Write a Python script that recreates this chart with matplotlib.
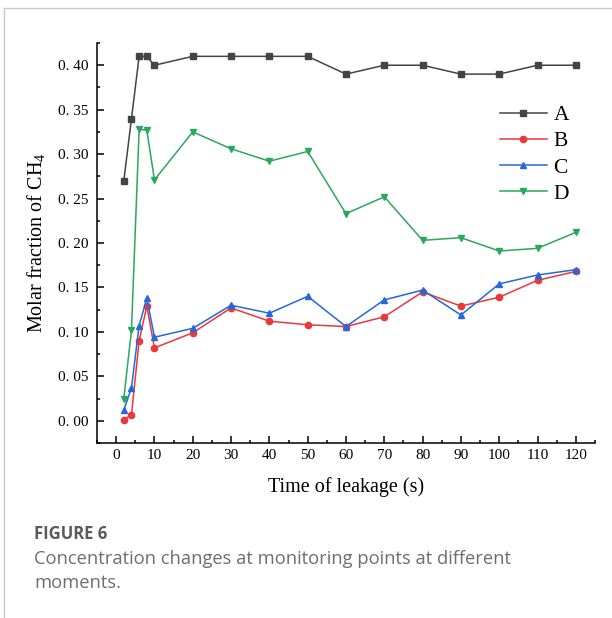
"""Molar fraction of CH4 at the four monitoring points over the leak time."""

import matplotlib
matplotlib.use("Agg")
import matplotlib.pyplot as plt
from matplotlib.lines import Line2D
from matplotlib.ticker import FuncFormatter, MultipleLocator

time_s = [2, 4, 6, 8, 10, 20, 30, 40, 50, 60, 70, 80, 90, 100, 110, 120]
point_a = [0.270, 0.340, 0.410, 0.410, 0.400, 0.410, 0.410, 0.410,
           0.410, 0.390, 0.400, 0.400, 0.390, 0.390, 0.400, 0.400]
point_b = [0.001, 0.007, 0.090, 0.129, 0.082, 0.099, 0.127, 0.112,
           0.108, 0.106, 0.117, 0.145, 0.129, 0.139, 0.158, 0.168]
point_c = [0.012, 0.037, 0.107, 0.138, 0.094, 0.104, 0.130, 0.121,
           0.140, 0.106, 0.136, 0.147, 0.119, 0.154, 0.164, 0.170]
point_d = [0.025, 0.102, 0.328, 0.327, 0.271, 0.325, 0.306, 0.292,
           0.303, 0.233, 0.252, 0.203, 0.206, 0.191, 0.194, 0.212]

series = [
    ("A", point_a, "#444444", "s"),
    ("B", point_b, "#e8393b", "o"),
    ("C", point_c, "#2468dc", "^"),
    ("D", point_d, "#2aa85c", "v"),
]

serif = "Liberation Serif"
plt.rcParams["mathtext.fontset"] = "custom"
plt.rcParams["mathtext.rm"] = serif
plt.rcParams["mathtext.it"] = serif + ":italic"

fig = plt.figure(figsize=(6.12, 6.18), dpi=100)
ax = fig.add_axes([0.1585, 0.2832, 0.8137, 0.6472])

for name, vals, color, marker in series:
    ax.plot(time_s, vals, color=color, lw=1.1, marker=marker, ms=4.5,
            label=name)

ax.set_xlim(-5, 125)
ax.set_ylim(-0.025, 0.425)
ax.xaxis.set_major_locator(MultipleLocator(10))
ax.xaxis.set_minor_locator(MultipleLocator(5))
ax.yaxis.set_major_locator(MultipleLocator(0.05))
ax.yaxis.set_minor_locator(MultipleLocator(0.025))
ax.yaxis.set_major_formatter(
    FuncFormatter(lambda v, _: f"{v:.2f}".replace(".", ". ")))

for side in ("top", "right"):
    ax.spines[side].set_visible(False)
for side in ("left", "bottom"):
    ax.spines[side].set_linewidth(1.1)
ax.tick_params(which="both", direction="in", width=1.1, labelsize=11)
ax.tick_params(which="major", length=5)
ax.tick_params(which="minor", length=2.5)
ax.tick_params(axis="x", which="major", pad=4.5)
ax.tick_params(axis="y", which="major", pad=6)
for lab in ax.get_xticklabels() + ax.get_yticklabels():
    lab.set_fontfamily(serif)

ax.set_xlabel("Time of leakage (s)", fontsize=14.5, family=serif, labelpad=11)
ax.set_ylabel("Molar fraction of CH$_4$", fontsize=14.5, family=serif,
              labelpad=8)

ax.legend(loc="upper left", bbox_to_anchor=(0.799, 0.847),
          bbox_transform=fig.transFigure, frameon=False,
          prop={"family": serif, "size": 15.5}, handlelength=2.2,
          handletextpad=0.3, labelspacing=0.28, borderpad=0)

# caption block and the page rules around it
fig.add_artist(Line2D([4.3 / 612, 4.3 / 612], [0, 1 - 8 / 618],
                      transform=fig.transFigure, color="#c8c8c8", lw=1))
fig.add_artist(Line2D([4.3 / 612, 1], [1 - 8 / 618, 1 - 8 / 618],
                      transform=fig.transFigure, color="#c8c8c8", lw=1))
fig.text(34 / 612, 1 - 534 / 618, "FIGURE 6", family="Open Sans",
         fontweight="bold", fontsize=12, color="#5a5a5a", va="center")
fig.text(34 / 612, 1 - 559 / 618,
         "Concentration changes at monitoring points at different",
         family="Open Sans", fontsize=13.2, color="#6e6e6e", va="center")
fig.text(34 / 612, 1 - 583 / 618, "moments.", family="Open Sans",
         fontsize=13.2, color="#6e6e6e", va="center")

fig.savefig("out.png", dpi=100)
